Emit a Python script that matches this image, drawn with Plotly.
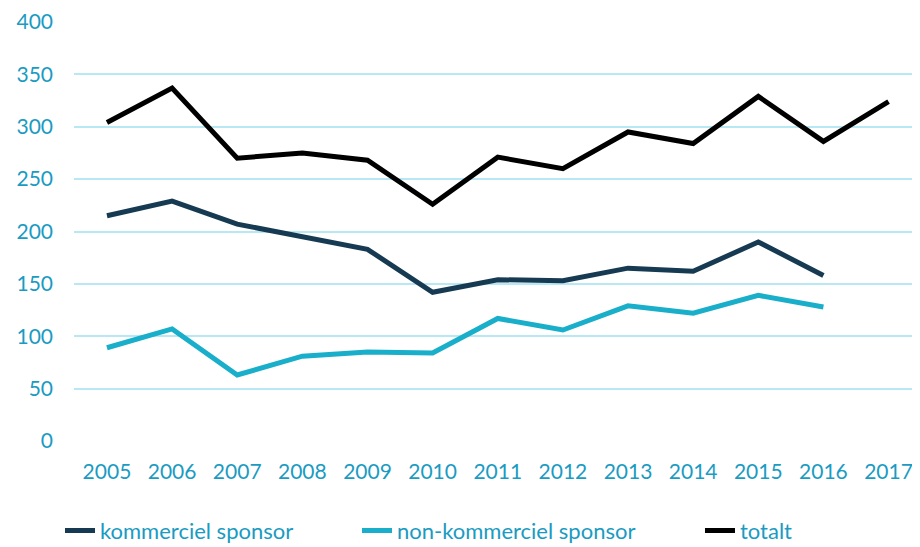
import plotly.graph_objects as go

years = ["2005", "2006", "2007", "2008", "2009", "2010", "2011", "2012", "2013", "2014", "2015", "2016", "2017"]
kommerciel = [215, 229, 207, 195, 183, 142, 154, 153, 165, 162, 190, 158, None]
non_kommerciel = [89, 107, 63, 81, 85, 84, 117, 106, 129, 122, 139, 128, None]
totalt = [304, 337, 270, 275, 268, 226, 271, 260, 295, 284, 329, 286, 324]

xs = list(range(len(years)))
fig = go.Figure()
fig.add_trace(go.Scatter(x=xs, y=kommerciel, mode="lines", name="kommerciel sponsor",
                         line=dict(color="#163a52", width=5), legend="legend"))
fig.add_trace(go.Scatter(x=xs, y=non_kommerciel, mode="lines", name="non-kommerciel sponsor",
                         line=dict(color="#19aec9", width=5), legend="legend2"))
fig.add_trace(go.Scatter(x=xs, y=totalt, mode="lines", name="totalt",
                         line=dict(color="#000000", width=5), legend="legend3"))

tc = "#1a9bc2"
leg_common = dict(orientation="h", y=-0.214, yanchor="middle", xanchor="left",
                  font=dict(size=22, color=tc), bgcolor="rgba(0,0,0,0)")
fig.update_layout(
    width=912, height=539,
    margin=dict(l=66, r=8, t=14, b=106, autoexpand=False),
    paper_bgcolor="white", plot_bgcolor="white",
    font=dict(family="Lato, Open Sans, sans-serif", size=21, color=tc),
    showlegend=True,
    legend=dict(x=-0.0167, **leg_common),
    legend2=dict(x=0.3377, **leg_common),
    legend3=dict(x=0.747, **leg_common),
    xaxis=dict(tickmode="array", tickvals=xs, ticktext=years,
               range=[-0.506, 12.36], showgrid=False, zeroline=False, showline=False,
               ticks="", ticklabelstandoff=16, automargin=False, ticklabeloverflow="allow"),
    yaxis=dict(range=[0, 400], dtick=50, showgrid=True, gridcolor="#b8e8f4", gridwidth=2,
               zeroline=False, showline=False, ticks="", ticklabelstandoff=20, automargin=False),
)
fig.write_html("out.html")
